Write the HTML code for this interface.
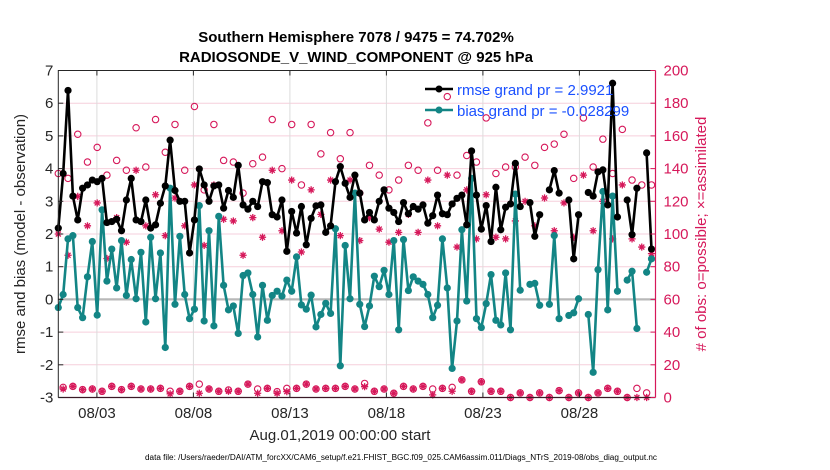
<!DOCTYPE html>
<html><head><meta charset="utf-8">
<style>
html,body{margin:0;padding:0;background:#fff;}
svg{display:block;font-family:"Liberation Sans",sans-serif;}
</style></head>
<body>
<svg id="chart" width="830" height="470" viewBox="0 0 830 470" xmlns="http://www.w3.org/2000/svg">
<text x="356" y="42" font-size="15" font-weight="bold" text-anchor="middle" fill="#000">Southern Hemisphere 7078 / 9475 = 74.702%</text>
<text x="356" y="62" font-size="15" font-weight="bold" text-anchor="middle" fill="#000">RADIOSONDE_V_WIND_COMPONENT @ 925 hPa</text>
<g id="grid"></g>
<g id="marks"></g>
<g id="axes"></g>
<text transform="translate(25,234) rotate(-90)" font-size="15" text-anchor="middle" fill="#262626">rmse and bias (model - observation)</text>
<text transform="translate(706,234) rotate(-90)" font-size="15" text-anchor="middle" fill="#d6185a"># of obs: o=possible; ×=assimilated</text>
<text x="340" y="440" font-size="15" text-anchor="middle" fill="#262626">Aug.01,2019 00:00:00 start</text>
<text x="401" y="460" font-size="8" textLength="512" lengthAdjust="spacingAndGlyphs" text-anchor="middle" fill="#000">data file: /Users/raeder/DAI/ATM_forcXX/CAM6_setup/f.e21.FHIST_BGC.f09_025.CAM6assim.011/Diags_NTrS_2019-08/obs_diag_output.nc</text>
<g id="legend">
  <line x1="425" y1="89" x2="453" y2="89" stroke="#000" stroke-width="2.5"/>
  <circle cx="439" cy="89" r="3.5" fill="#000"/>
  <text x="457" y="95" font-size="15" fill="#1a50ff">rmse grand pr = 2.9921</text>
  <line x1="425" y1="110" x2="453" y2="110" stroke="#138585" stroke-width="2.5"/>
  <circle cx="439" cy="110" r="3.5" fill="#138585"/>
  <text x="457" y="116" font-size="15" fill="#1a50ff">bias grand pr = -0.028299</text>
</g>
</svg>
<script>
const rmse = [2.18,3.85,6.39,3.16,2.43,3.4,3.5,3.65,3.6,3.7,2.35,2.38,2.45,2.1,3.04,3.7,2.43,2.38,3.04,2.18,2.28,2.94,3.47,4.87,3.33,3.0,3.0,1.42,2.43,3.99,3.5,3.0,3.47,3.5,2.79,3.33,3.12,4.1,2.89,2.76,3.0,2.84,3.6,3.57,2.59,2.52,3.04,1.47,2.69,2.03,2.84,1.67,2.48,2.86,2.89,2.05,2.25,3.6,4.06,3.55,3.12,3.8,3.25,2.43,2.66,2.43,3.0,3.35,2.79,2.66,2.38,2.96,2.62,2.84,2.76,2.89,2.33,2.56,3.19,2.62,2.59,2.92,3.09,3.19,2.28,4.54,3.19,2.15,2.87,1.77,3.43,2.13,2.82,2.92,4.16,2.84,null,2.96,1.93,2.59,null,3.35,3.94,3.25,null,3.04,1.24,2.59,null,3.27,3.16,3.9,3.96,2.89,6.61,2.52,null,3.04,1.98,3.4,null,4.48,1.54];
const bias = [-0.25,0.15,1.85,1.95,-0.25,-0.56,0.69,1.77,-0.48,2.74,0.56,1.54,0.35,1.8,0.12,1.22,0.02,1.44,-0.69,1.9,0.02,1.42,-1.47,3.4,-0.15,1.93,0.15,-0.59,-0.3,2.87,-0.66,2.1,-0.81,2.54,0.43,-0.32,-0.2,-1.04,0.73,0.81,0.15,-1.15,0.43,-0.64,0.12,0.25,0.1,0.59,0.25,1.3,-0.17,-0.3,0.13,-0.84,-0.46,-0.12,-0.43,2.16,-2.03,1.65,0.02,3.25,-0.15,-0.83,-0.2,0.71,0.39,0.89,0.15,1.8,-0.93,1.83,0.27,0.69,0.56,0.46,0.15,-0.56,-0.18,1.85,0.35,-2.11,-0.66,2.13,-0.05,3.7,-0.59,-0.86,-0.13,0.76,-0.64,-0.78,0.81,-0.93,3.22,0.28,null,0.46,0.49,-0.18,null,-0.15,1.95,-0.59,null,-0.49,-0.41,0.02,null,-0.46,-2.23,0.91,3.3,-0.32,3.16,0.25,null,0.59,0.86,-0.89,null,0.83,1.24];
// observation counts at even (00Z/12Z) time indices
const possEven = [137,134,161,144,153,136,145,139,165,141,170,150,167,139,178,127,167,145,144,125,143,147,170,140,167,130,167,149,162,146,162,125,142,136,127,133,142,139,168,139,184,136,148,144,171,137,141,141,147,142,153,155,161,134,171,141,158,137,164,133,130,130];
const asmEven = [100,87,123,105,119,85,110,95,139,105,124,99,122,105,130,93,130,109,108,87,110,98,139,102,133,89,127,112,133,99,133,96,110,103,95,101,112,101,133,105,136,92,127,97,124,98,97,108,120,105,122,102,119,98,136,102,120,97,130,97,92,88];
// observation counts at odd (06Z/18Z) time indices
const possOdd = [6.2,6.8,4.8,5.2,3.8,6.8,4.8,6.8,5.2,5.2,5.6,3.8,3.8,6.8,8.2,5.2,3.8,4.6,3.8,8.2,5.2,5.6,3.6,5.6,5.6,8.2,5.2,5.6,5.6,6.8,5.2,8.6,3.8,5.2,2.6,6.8,5.2,6.8,5.2,5.6,6.2,10.8,3.8,9.6,3.8,3.8,0,2.8,0,2.8,0,4.2,0,2.8,0,2.8,5.6,3.8,0,5.6,2.8];
const asmOdd = [5.2,6.8,4.8,5.2,3.8,6.8,4.8,6.8,5.2,5.2,5.6,2.2,3.8,6.8,2.6,5.2,3.8,3.8,3.8,8.2,2.6,5.6,2.6,3.6,5.6,8.2,5.2,5.6,5.6,6.8,5.2,6.6,3.8,5.2,2.6,6.8,5.2,6.8,1.6,5.6,3.8,10.8,3.8,9.6,3.8,3.8,0,2.8,0,2.8,0,4.2,0,2.8,0,2.8,5.6,3.8,0,0,0];
const xTickDays = [2,7,12,17,22,27];
const xTickLabels = ["08/03","08/08","08/13","08/18","08/23","08/28"];
const yLeftTicks = [-3,-2,-1,0,1,2,3,4,5,6,7];
const yRightTicks = [0,20,40,60,80,100,120,140,160,180,200];

const NS = "http://www.w3.org/2000/svg";
const L = 58.3, R = 655.5, T = 70.5, B = 397.5;
const dayPx = 19.3;
function xDay(d){ return L + d*dayPx; }
function xIdx(i){ return L + i*(R-4 - L)/122; }
function yL(v){ return B - (v+3)/10*(B-T); }
function yR(c){ return B - c/200*(B-T); }
function mk(tag, attrs, parent){ const e=document.createElementNS(NS,tag); for(const k in attrs) e.setAttribute(k,attrs[k]); parent.appendChild(e); return e; }
const grid=document.getElementById('grid'), marks=document.getElementById('marks'), axes=document.getElementById('axes');

yRightTicks.forEach(c=>{ if(c===0||c===200) return;
  const ln=mk('line',{x1:L,x2:R,y1:yR(c),y2:yR(c),stroke:'#f6cfdc','stroke-width':1},grid);
  
  
});
xTickDays.forEach(d=>{
  const ln=mk('line',{x1:xDay(d),x2:xDay(d),y1:T,y2:B,stroke:'#dcdcdc','stroke-width':1},grid);
  
  
});
const zl=mk('line',{x1:L,x2:R,y1:yL(0),y2:yL(0),stroke:'#b8b8b8','stroke-width':2.2},grid);



function starPath(x,y,s){ return `M${x-s} ${y}H${x+s}M${x} ${y-s}V${y+s}M${x-s*0.7} ${y-s*0.7}L${x+s*0.7} ${y+s*0.7}M${x-s*0.7} ${y+s*0.7}L${x+s*0.7} ${y-s*0.7}`; }
function drawObs(arr, offset, kind){
  arr.forEach((c,k)=>{
    const i = 2*k+offset, x=xIdx(i), y=yR(c);
    let e;
    if(kind==='poss'){ e=mk('circle',{cx:x,cy:y,r:3.2,fill:'none',stroke:'#d6185a','stroke-width':1.1},marks);
       }
    else { e=mk('path',{d:starPath(x,y,3.6),stroke:'#d6185a','stroke-width':1.3,fill:'none'},marks);
       }
    
  });
}
drawObs(possEven,0,'poss'); drawObs(asmEven,0,'asm');
drawObs(possOdd,1,'poss'); drawObs(asmOdd,1,'asm');

function drawSeries(arr,color,name){
  let d='', pen=false;
  arr.forEach((v,i)=>{ if(v===null){pen=false;return;} d+=(pen?'L':'M')+xIdx(i).toFixed(1)+' '+yL(v).toFixed(1); pen=true; });
  const p=mk('path',{d:d,fill:'none',stroke:color,'stroke-width':2.6,'stroke-linejoin':'round'},marks);
  
  
  arr.forEach((v,i)=>{ if(v===null) return;
    const c=mk('circle',{cx:xIdx(i),cy:yL(v),r:3.6,fill:color},marks);
    
    
  });
}
drawSeries(bias,'#138585','bias');
drawSeries(rmse,'#000','rmse');

const lf=mk('path',{d:`M${L} ${B}V${T}H${R}`,fill:'none',stroke:'#262626','stroke-width':1},axes);


const bx=mk('line',{x1:L,x2:R,y1:B,y2:B,stroke:'#3a1a26','stroke-width':1.2},axes);


const rx=mk('line',{x1:R,x2:R,y1:T,y2:B,stroke:'#d6185a','stroke-width':1.2},axes);


yLeftTicks.forEach(v=>{
  mk('line',{x1:L,x2:L+5,y1:yL(v),y2:yL(v),stroke:'#262626'},axes);
  const t=mk('text',{x:L-5,y:yL(v)+5,'font-size':15,'text-anchor':'end',fill:'#262626'},axes);
  t.textContent=v;
  
  
});
yRightTicks.forEach(c=>{
  mk('line',{x1:R-5,x2:R,y1:yR(c),y2:yR(c),stroke:'#d6185a'},axes);
  const t=mk('text',{x:R+8,y:yR(c)+5,'font-size':15,fill:'#d6185a'},axes);
  t.textContent=c;
  
  
});
xTickDays.forEach((d,k)=>{
  mk('line',{x1:xDay(d),x2:xDay(d),y1:B,y2:B-5,stroke:'#262626'},axes);
  mk('line',{x1:xDay(d),x2:xDay(d),y1:T,y2:T+5,stroke:'#262626'},axes);
  const t=mk('text',{x:xDay(d),y:418,'font-size':15,'text-anchor':'middle',fill:'#262626'},axes);
  t.textContent=xTickLabels[k];
  
  
});
</script>
</body></html>
